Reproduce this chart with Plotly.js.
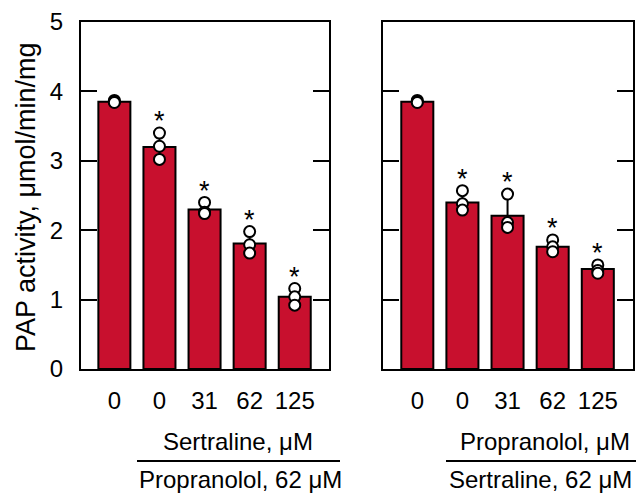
<!DOCTYPE html>
<html>
<head>
<meta charset="utf-8">
<script src="https://cdn.plot.ly/plotly-3.0.1.min.js"></script>
<style>html,body{margin:0;padding:0;background:#fff;}#chart{width:644px;height:493px;}</style>
</head>
<body>
<div id="chart"></div>
<script>
// Tick labels (concentrations, µM)
const tickLabels = ["0", "0", "31", "62", "125"];

// Left panel: Sertraline titration with Propranolol 62 µM
const leftMeans = [3.85, 3.20, 2.30, 1.81, 1.04];
const leftErr   = [0.02, 0.19, 0.09, 0.16, 0.12];
const leftPoints = [
  [3.87, 3.85, 3.84],
  [3.40, 3.21, 3.02],
  [2.40, 2.26, 2.24],
  [1.98, 1.79, 1.67],
  [1.16, 1.04, 0.92]
];
const leftSig = [false, true, true, true, true];

// Right panel: Propranolol titration with Sertraline 62 µM
const rightMeans = [3.85, 2.40, 2.21, 1.76, 1.44];
const rightErr   = [0.02, 0.14, 0.26, 0.09, 0.06];
const rightPoints = [
  [3.87, 3.85, 3.84],
  [2.57, 2.38, 2.29],
  [2.52, 2.11, 2.04],
  [1.86, 1.76, 1.69],
  [1.50, 1.42, 1.38]
];
const rightSig = [false, true, true, true, true];

const FONT = "Arial, 'Liberation Sans', sans-serif";
const RED = "rgb(200,16,46)";
const idx = tickLabels.map((_, i) => i);

function barTrace(means, err, xa, ya) {
  return {
    type: "bar", x: idx, y: means, xaxis: xa, yaxis: ya,
    width: 0.71,
    marker: {color: RED, line: {color: "#000", width: 2}},
    error_y: {type: "data", array: err, visible: true, color: "#000", thickness: 2, width: 0},
    hoverinfo: "skip", showlegend: false
  };
}
function pointTrace(points, xa, ya) {
  const xs = [], ys = [];
  points.forEach((arr, i) => arr.forEach(v => { xs.push(i); ys.push(v); }));
  return {
    type: "scatter", mode: "markers", x: xs, y: ys, xaxis: xa, yaxis: ya,
    marker: {size: 11, color: "#fff", line: {color: "#000", width: 2}},
    cliponaxis: false, hoverinfo: "skip", showlegend: false
  };
}
function starAnnotations(points, sig, xa, ya) {
  const out = [];
  points.forEach((arr, i) => {
    if (!sig[i]) return;
    out.push({
      x: i, y: Math.max(...arr) + 0.17, xref: xa, yref: ya,
      text: "*", showarrow: false, xanchor: "center", yanchor: "middle",
      font: {family: FONT, size: 27, color: "#000"}
    });
  });
  return out;
}

const data = [
  barTrace(leftMeans, leftErr, "x", "y"),
  pointTrace(leftPoints, "x", "y"),
  barTrace(rightMeans, rightErr, "x2", "y2"),
  pointTrace(rightPoints, "x2", "y2")
];

const yDom = [(493 - 369) / 493, (493 - 22) / 493];
const yCommon = {
  range: [0, 5], dtick: 1, domain: yDom,
  showline: true, linecolor: "#000", linewidth: 2, mirror: "ticks",
  ticks: "inside", ticklen: 16, tickwidth: 2, tickcolor: "#000",
  showgrid: false, zeroline: false, fixedrange: true,
  tickfont: {family: FONT, size: 24, color: "#000"}
};
const xCommon = {
  tickmode: "array", tickvals: idx, ticktext: tickLabels,
  showline: true, linecolor: "#000", linewidth: 2, mirror: true,
  ticks: "", showgrid: false, zeroline: false, fixedrange: true,
  ticklabelstandoff: 9,
  tickfont: {family: FONT, size: 24, color: "#000"}
};

const labFont = {family: FONT, size: 24, color: "#000"};
const layout = {
  width: 644, height: 493,
  margin: {l: 0, r: 0, t: 0, b: 0},
  paper_bgcolor: "#fff", plot_bgcolor: "#fff",
  xaxis: Object.assign({}, xCommon, {domain: [81 / 644, 329 / 644], range: [-0.74, 4.76], anchor: "y"}),
  yaxis: Object.assign({}, yCommon, {anchor: "x", ticklabelstandoff: 11}),
  xaxis2: Object.assign({}, xCommon, {domain: [383 / 644, 633 / 644], range: [-0.76, 4.78], anchor: "y2"}),
  yaxis2: Object.assign({}, yCommon, {anchor: "x2", showticklabels: false}),
  shapes: [
    {type: "line", xref: "paper", yref: "paper", x0: 137 / 644, x1: 340 / 644, y0: (493 - 461) / 493, y1: (493 - 461) / 493, line: {color: "#000", width: 2}},
    {type: "line", xref: "paper", yref: "paper", x0: 446 / 644, x1: 636 / 644, y0: (493 - 461) / 493, y1: (493 - 461) / 493, line: {color: "#000", width: 2}}
  ],
  annotations: [
    ...starAnnotations(leftPoints, leftSig, "x", "y"),
    ...starAnnotations(rightPoints, rightSig, "x2", "y2"),
    {xref: "paper", yref: "paper", x: 26 / 644, y: (493 - 197) / 493, text: "PAP activity, μmol/min/mg", textangle: -90, showarrow: false, xanchor: "center", yanchor: "middle", font: {family: FONT, size: 27, color: "#000"}},
    {xref: "paper", yref: "paper", x: 238 / 644, y: (493 - 441) / 493, text: "Sertraline, μM", showarrow: false, xanchor: "center", yanchor: "middle", font: labFont},
    {xref: "paper", yref: "paper", x: 240 / 644, y: (493 - 479) / 493, text: "Propranolol, 62 μM", showarrow: false, xanchor: "center", yanchor: "middle", font: labFont},
    {xref: "paper", yref: "paper", x: 545 / 644, y: (493 - 441) / 493, text: "Propranolol, μM", showarrow: false, xanchor: "center", yanchor: "middle", font: labFont},
    {xref: "paper", yref: "paper", x: 540 / 644, y: (493 - 479) / 493, text: "Sertraline, 62 μM", showarrow: false, xanchor: "center", yanchor: "middle", font: labFont}
  ]
};

Plotly.newPlot("chart", data, layout, {staticPlot: true, displayModeBar: false});
</script>
</body>
</html>
